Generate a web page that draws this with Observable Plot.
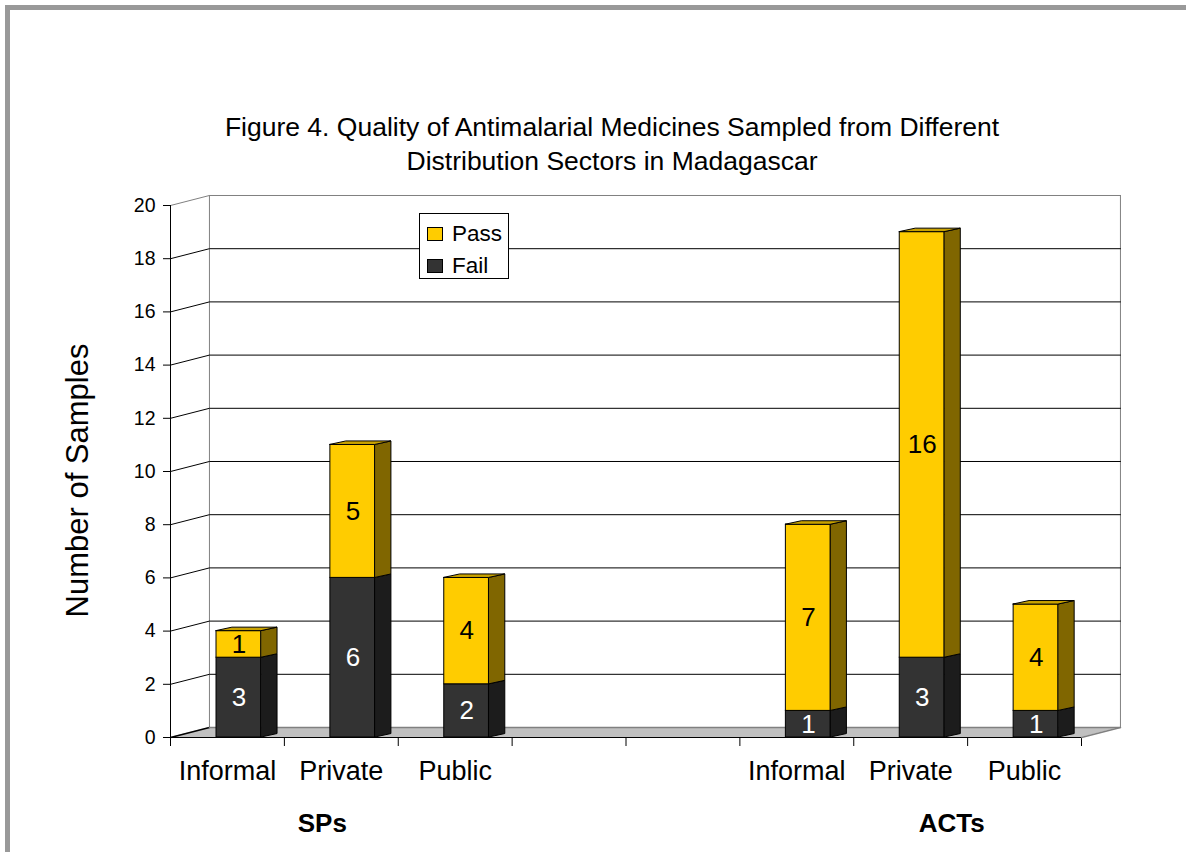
<!DOCTYPE html>
<html>
<head>
<meta charset="utf-8">
<script src="https://cdn.jsdelivr.net/npm/d3@7"></script>
<script src="https://cdn.jsdelivr.net/npm/@observablehq/plot@0.6"></script>
<style>
  body { margin: 0; background: #fff; }
  #wrap { position: relative; width: 1186px; height: 852px; overflow: hidden; background: #fff;
          font-family: "Liberation Sans", Arial, sans-serif; color: #000; }
  #chart { position: absolute; left: 0; top: 0; }
  .border { position: absolute; background: #999; }
  #title { position: absolute; left: 112px; width: 1000px; top: 110px; text-align: center;
           font-size: 26.5px; line-height: 34px; white-space: nowrap; }
  #legend { position: absolute; left: 419px; top: 213px; width: 88px; height: 64px; border: 1px solid #000;
            background: #fff; font-size: 22.5px; }
  .item { position: absolute; left: 7px; height: 24px; display: flex; align-items: center; }
  .sw { width: 14px; height: 12px; border: 1px solid #000; margin-right: 9px; }
</style>
</head>
<body>
<div id="wrap">
  <div id="chart"></div>
  <div class="border" style="left:5px;top:5px;right:0;height:5px"></div>
  <div class="border" style="left:5px;top:5px;width:5px;bottom:0"></div>
  <div id="title">Figure 4. Quality of Antimalarial Medicines Sampled from Different<br>Distribution Sectors in Madagascar</div>
  <div id="legend">
    <div class="item" style="top:8px"><div class="sw" style="background:#FFCC00"></div>Pass</div>
    <div class="item" style="top:40px"><div class="sw" style="background:#333333"></div>Fail</div>
  </div>
</div>
<script>
// ---- data ----
const groups = ["SPs", "ACTs"];
const sectors = ["Informal", "Private", "Public"];
const failValues = [3, 6, 2, 1, 3, 1];   // SPs Informal, Private, Public, ACTs Informal, Private, Public
const passValues = [1, 5, 4, 7, 16, 4];
const yTicks = [0, 2, 4, 6, 8, 10, 12, 14, 16, 18, 20];

// ---- geometry helpers (in scale units) ----
const nSlots = 8;            // 3 sectors + 2 empty slots + 3 sectors
const slotOf = (g, s) => g * 5 + s;
const wallDX = 0.342, wallDY = 0.376;   // depth of floor / back wall
const barDX = 0.14, barDY = 0.13;       // depth of each column
const barL = 0.404, barR = 0.80;        // front face within slot

const colors = {
  Pass: {front: "#FFCC00", side: "#806600", top: "#C9A200", text: "#000"},
  Fail: {front: "#333333", side: "#1C1C1C", top: "#262626", text: "#fff"}
};

// segments
const segments = [];
groups.forEach((g, gi) => sectors.forEach((s, si) => {
  const k = gi * 3 + si;
  const slot = slotOf(gi, si);
  const f = failValues[k], p = passValues[k];
  segments.push({id: `${k}F`, status: "Fail", value: f, lo: 0, hi: f, slot, top: false});
  segments.push({id: `${k}P`, status: "Pass", value: p, lo: f, hi: f + p, slot, top: true});
}));

const sidePts = segments.flatMap(d => [
  {id: d.id, status: d.status, x: d.slot + barR, lo: d.lo, hi: d.hi},
  {id: d.id, status: d.status, x: d.slot + barR + barDX, lo: d.lo + barDY, hi: d.hi + barDY}
]);
const topPts = segments.filter(d => d.top).flatMap(d => [
  {id: d.id, status: d.status, y: d.hi, a: d.slot + barL, b: d.slot + barR},
  {id: d.id, status: d.status, y: d.hi + barDY, a: d.slot + barL + barDX, b: d.slot + barR + barDX}
]);

const floorPts = [
  {y: 0, a: 0, b: nSlots},
  {y: wallDY, a: wallDX, b: nSlots + wallDX}
];
const gridPts = yTicks.flatMap(v => [
  {v, x: 0, y: v},
  {v, x: wallDX, y: v + wallDY},
  {v, x: nSlots + wallDX, y: v + wallDY}
]);

const catLabels = groups.flatMap((g, gi) => sectors.map((s, si) => ({text: s, slot: slotOf(gi, si)})));

const statusMarks = (st) => [
  Plot.rect(segments.filter(d => d.status === st), {
    x1: d => d.slot + barL, x2: d => d.slot + barR, y1: "lo", y2: "hi",
    fill: colors[st].front, stroke: "#000", strokeWidth: 1
  }),
  Plot.area(sidePts.filter(d => d.status === st), {
    x1: "x", y1: "lo", y2: "hi", z: "id", curve: "linear",
    fill: colors[st].side, stroke: "#000", strokeWidth: 1
  }),
  Plot.area(topPts.filter(d => d.status === st), {
    y1: "y", x1: "a", x2: "b", z: "id", curve: "linear",
    fill: colors[st].top, stroke: "#000", strokeWidth: 1
  })
];

const chart = Plot.plot({
  width: 1186,
  height: 852,
  marginLeft: 170,
  marginRight: 105,
  marginTop: 205,
  marginBottom: 115,
  style: {fontFamily: "'Liberation Sans', Arial, sans-serif", fontSize: "19.5px", background: "transparent", color: "#000"},
  x: {domain: [0, nSlots], ticks: d3.range(0, nSlots + 1), tickFormat: () => "", tickSize: 9, label: null},
  y: {domain: [0, 20], ticks: yTicks, tickSize: 7, tickPadding: 8, label: null},
  marks: [
    // floor
    Plot.area(floorPts, {y1: "y", x1: "a", x2: "b", curve: "linear", fill: "#C0C0C0"}),
    Plot.line(floorPts.map(d => ({x: d.b, y: d.y})), {x: "x", y: "y", stroke: "#808080"}),
    // back wall edges
    Plot.ruleX([wallDX, nSlots + wallDX], {y1: wallDY, y2: 20 + wallDY, stroke: "#808080"}),
    // gridlines
    Plot.line(gridPts.filter(d => d.v > 0 && d.v < 20), {x: "x", y: "y", z: "v", stroke: "#000", strokeWidth: 1}),
    Plot.line(gridPts.filter(d => d.v === 20), {x: "x", y: "y", stroke: "#808080", strokeWidth: 1}),
    Plot.line(gridPts.filter(d => d.v === 0 && d.x <= wallDX), {x: "x", y: "y", stroke: "#000"}),
    Plot.line(gridPts.filter(d => d.v === 0 && d.x >= wallDX), {x: "x", y: "y", stroke: "#808080"}),
    // axes lines
    Plot.ruleY([0], {x1: 0, x2: nSlots, stroke: "#000"}),
    Plot.ruleX([0], {y1: 0, y2: 20, stroke: "#000"}),
    // columns
    ...statusMarks("Fail"),
    ...statusMarks("Pass"),
    // value labels
    Plot.text(segments, {
      x: d => d.slot + (barL + barR) / 2, y: d => (d.lo + d.hi) / 2, text: d => String(d.value),
      fill: d => colors[d.status].text, fontSize: 26
    }),
    // category labels
    Plot.text(catLabels, {x: d => d.slot + 0.5, y: () => 0, dy: 34, text: "text", fontSize: 27, fill: "#000"}),
    // group labels
    Plot.text([groups[0]], {x: () => 1.5, y: () => 0, dx: -19, dy: 86, text: d => d, fontSize: 26, fontWeight: "bold", fill: "#000"}),
    Plot.text([groups[1]], {x: () => 6.5, y: () => 0, dx: 41, dy: 86, text: d => d, fontSize: 26, fontWeight: "bold", fill: "#000"}),
    // y axis title
    Plot.text(["Number of Samples"], {frameAnchor: "left", textAnchor: "middle", dx: -92, dy: 9, rotate: -90, text: d => d, fontSize: 31, fill: "#000"})
  ]
});

document.getElementById("chart").appendChild(chart);
</script>
</body>
</html>
